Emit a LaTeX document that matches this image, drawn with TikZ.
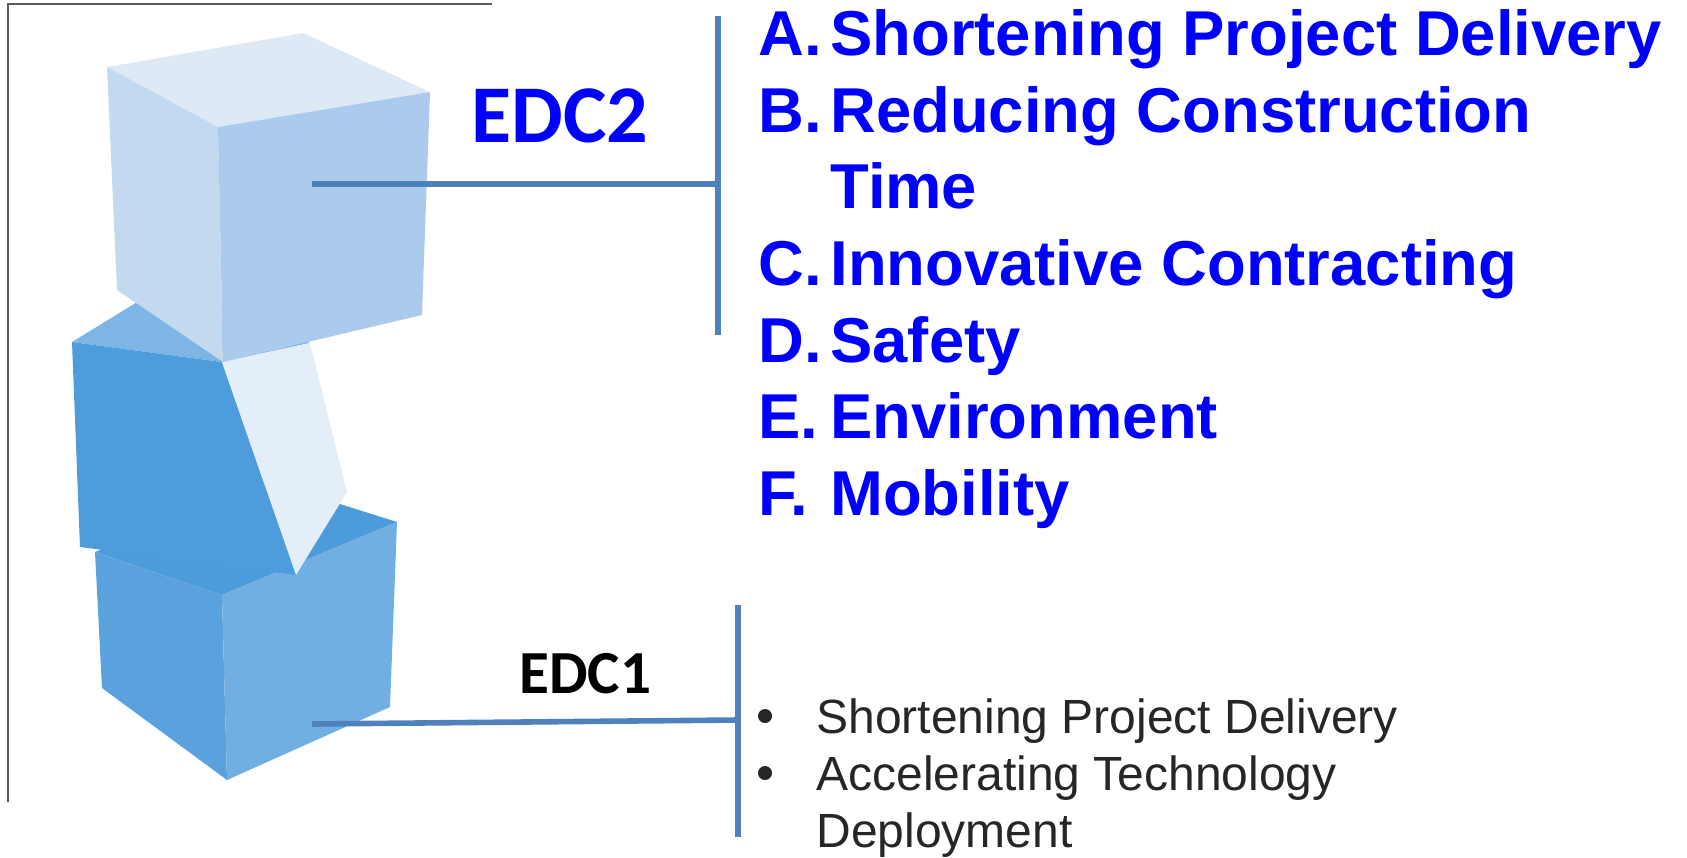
\documentclass[tikz,border=0pt]{standalone}
\usepackage{fontspec}
\setmainfont{Liberation Sans}
\newfontfamily\edcfont{Carlito}
\usepackage{xcolor}
\definecolor{itemBlue}{HTML}{0000FF}
\definecolor{linkBlue}{HTML}{4F81BD}
\definecolor{bulletGray}{HTML}{262626}
\definecolor{frameGray}{HTML}{5A5A5A}
\definecolor{topCubeTop}{HTML}{DDEAF6}
\definecolor{topCubeLeft}{HTML}{C3D9F0}
\definecolor{topCubeRight}{HTML}{AACBEC}
\definecolor{midCubeTop}{HTML}{7DB5E4}
\definecolor{midCubeFront}{HTML}{4D9DDC}
\definecolor{midCubeRight}{HTML}{E4EEF8}
\definecolor{lowCubeTop}{HTML}{4C9BDB}
\definecolor{lowCubeLeft}{HTML}{5AA2DD}
\definecolor{lowCubeRight}{HTML}{71AEE2}
\tikzset{
    ItemLetter/.style={anchor=base west, inner sep=0pt, text=itemBlue, font=\fontsize{31.7}{38}\selectfont\bfseries},
    ItemText/.style={ItemLetter},
    EdcTwoStyle/.style={anchor=base west, inner sep=0pt, text=itemBlue, font=\edcfont\fontsize{41}{49}\selectfont\bfseries},
    EdcOneStyle/.style={anchor=base west, inner sep=0pt, text=black, font=\edcfont\fontsize{30.6}{37}\selectfont\bfseries},
    BulletText/.style={anchor=base west, inner sep=0pt, text=bulletGray, font=\fontsize{24}{28}\selectfont},
    BulletDot/.style={circle, fill=bulletGray, inner sep=0pt, minimum size=7pt},
    LinkLine/.style={draw=linkBlue, line width=2.8pt}
}

\begin{document}
\begin{tikzpicture}[x=0.5pt, y=-0.5pt]
    \useasboundingbox (0,0) rectangle (1687,857);

    % frame of the photo
    \draw[frameGray, line width=0.75pt] (492,4) -- (8,4) -- (8,802);

    % bottom cube
    \fill[lowCubeTop] (95,552) -- (270,482) -- (397,522) -- (222,595) -- cycle;
    \fill[lowCubeLeft] (95,552) -- (222,595) -- (227,780) -- (102,688) -- cycle;
    \fill[lowCubeRight] (222,595) -- (397,522) -- (390,707) -- (227,780) -- cycle;

    % middle cube
    \fill[midCubeTop] (72,342) -- (165,285) -- (310,343) -- (222,362) -- cycle;
    \fill[midCubeFront] (72,342) -- (222,362) -- (296,575) -- (80,547) -- cycle;
    \fill[midCubeRight] (222,362) -- (310,343) -- (347,492) -- (296,575) -- cycle;

    % top cube
    \fill[topCubeTop] (107,67) -- (303,33) -- (430,92) -- (218,127) -- cycle;
    \fill[topCubeLeft] (107,67) -- (218,127) -- (223,362) -- (117,290) -- cycle;
    \fill[topCubeRight] (218,127) -- (430,92) -- (422,315) -- (223,362) -- cycle;

    % labels
    \node[EdcTwoStyle] (edc2) at (471,142) {EDC2};
    \node[EdcOneStyle] (edc1) at (519,693) {EDC1};

    % connectors
    \coordinate (edc2start) at (312,184);
    \coordinate (edc2joint) at (718,184);
    \coordinate (edc2top) at (718,16);
    \coordinate (edc2bot) at (718,335);
    \draw[LinkLine] (edc2start) -- (edc2joint);
    \draw[LinkLine] (edc2top) -- (edc2bot);

    \coordinate (edc1start) at (312,724);
    \coordinate (edc1joint) at (738,720);
    \coordinate (edc1top) at (738,605);
    \coordinate (edc1bot) at (738,837);
    \draw[LinkLine] (edc1start) -- (edc1joint);
    \draw[LinkLine] (edc1top) -- (edc1bot);

    % EDC2 list
    \foreach \lt/\txt/\yy [count=\i] in {A./Shortening Project Delivery/55, B./Reducing Construction/132, C./Innovative Contracting/285, D./Safety/362, E./Environment/438, F./Mobility/515} {
        \node[ItemLetter] (letter\i) at (758,\yy) {\lt};
        \node[ItemText] (item\i) at (830,\yy) {\txt};
    }
    \node[ItemText] (item2b) at (830,208) {Time};

    % EDC1 bullets
    \node[BulletDot] (dot1) at (765,716) {};
    \node[BulletText] (bul1) at (816,733) {Shortening Project Delivery};
    \node[BulletDot] (dot2) at (765,773) {};
    \node[BulletText] (bul2) at (816,790) {Accelerating Technology};
    \node[BulletText] (bul2b) at (816,847) {Deployment};
\end{tikzpicture}
\end{document}
